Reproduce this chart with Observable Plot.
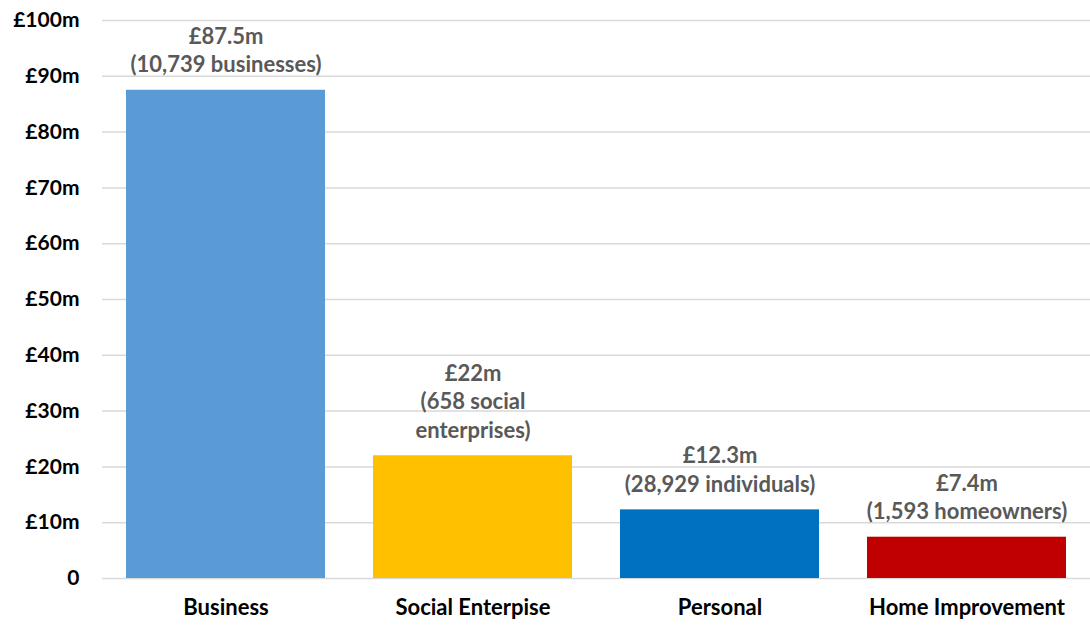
<!DOCTYPE html>
<html>
<head>
<meta charset="utf-8">
<script src="https://cdn.jsdelivr.net/npm/d3@7"></script>
<script src="https://cdn.jsdelivr.net/npm/@observablehq/plot@0.6"></script>
<style>
  html, body { margin: 0; padding: 0; background: #fff; }
  #chart { width: 1090px; height: 625px; }
  svg { font-family: Lato, "Open Sans", sans-serif; }
</style>
</head>
<body>
<div id="chart"></div>
<script>
const categories = ["Business", "Social Enterpise", "Personal", "Home Improvement"];
const values = [87.5, 22, 12.3, 7.4];
const valueLabels = ["£87.5m", "£22m", "£12.3m", "£7.4m"];
const countLabels = ["(10,739 businesses)", "(658 social\nenterprises)", "(28,929 individuals)", "(1,593 homeowners)"];
const colors = ["#5B9BD5", "#FFC000", "#0070C0", "#C00000"];
const yTicks = [0, 10, 20, 30, 40, 50, 60, 70, 80, 90, 100];

const data = categories.map((c, i) => ({
  category: c,
  value: values[i],
  label: valueLabels[i] + "\n" + countLabels[i],
  color: colors[i]
}));

const chart = Plot.plot({
  width: 1090,
  height: 625,
  marginLeft: 102,
  marginRight: 0,
  marginTop: 20,
  marginBottom: 47,
  style: { fontFamily: "Lato, 'Open Sans', sans-serif", background: "#fff" },
  x: { domain: categories, paddingInner: 0.194, paddingOuter: 0.097, label: null },
  y: { domain: [0, 100], label: null },
  marks: [
    Plot.ruleY(yTicks, { stroke: "#d9d9d9", strokeWidth: 1.5 }),
    Plot.barY(data, { x: "category", y: "value", fill: d => d.color }),
    Plot.text(data, {
      x: "category", y: "value", text: "label",
      lineAnchor: "bottom", dy: -18, lineHeight: 1.3,
      fontSize: 22, fontWeight: "bold", fill: "#595959"
    }),
    Plot.axisY({
      ticks: yTicks, tickSize: 0, tickPadding: 23,
      tickFormat: d => d === 0 ? "0" : `£${d}m`,
      fontSize: 21, fontWeight: "bold", fill: "#000", label: null
    }),
    Plot.axisX({
      tickSize: 0, tickPadding: 21, fontSize: 22, fontWeight: "bold", fill: "#000", label: null
    })
  ]
});
document.getElementById("chart").appendChild(chart);
</script>
</body>
</html>
